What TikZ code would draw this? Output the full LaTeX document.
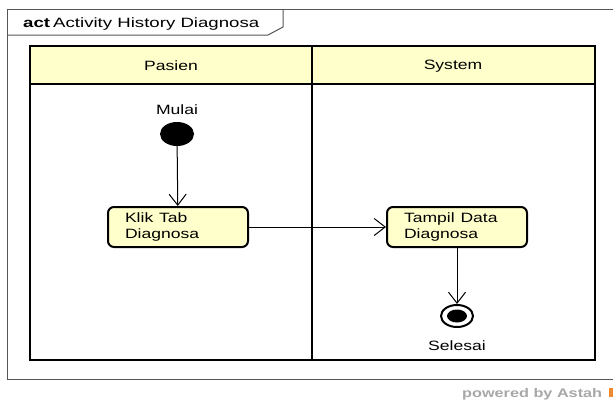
\documentclass[tikz,border=0pt]{standalone}
\usepackage{fontspec}
\setmainfont{Liberation Sans}
\usetikzlibrary{arrows.meta,shapes.geometric}
\definecolor{lanefill}{HTML}{FFFFCC}
\definecolor{actfill}{HTML}{FFFFCC}
\definecolor{framegray}{HTML}{555555}
\definecolor{markgray}{HTML}{A8A8A8}
\definecolor{astahorange}{HTML}{F08A30}
% text is set slightly wide, as in the Astah export
\newcommand\wtext[1]{\scalebox{1.3}[1]{#1}}
\tikzset{
  lane/.style={draw=black, line width=2pt},
  lanehead/.style={draw=black, line width=2pt, fill=lanefill},
  actionbox/.style={draw=black, line width=2pt, fill=actfill, rounded corners=6pt,
    minimum width=140pt, minimum height=40pt, inner sep=0pt, text width=106pt,
    align=left, font=\fontsize{13.5}{15.5}\selectfont},
  lbl/.style={font=\fontsize{13.5}{15.5}\selectfont, inner sep=0pt},
  flow/.style={draw=black, line width=1pt, -{Straight Barb[length=11pt,width=17pt,line width=1pt]}},
}
\begin{document}
\begin{tikzpicture}[x=1pt,y=-1pt]
  \useasboundingbox (0,0) rectangle (613,402);
  \clip (0,0) rectangle (613,402);
  \fill[white] (0,0) rectangle (613,402);

  % diagram frame with its name tab
  \draw[framegray, line width=1pt] (620,9) -- (7,9) -- (7,379) -- (620,379);
  \draw[framegray, line width=1pt] (7,35) -- (268,35) -- (283,27) -- (283,9);
  \node[lbl, anchor=west] (title) at (23,24) {\scalebox{1.38}[1]{\textbf{act}\,Activity History Diagnosa}};

  % swimlanes
  \draw[lanehead] (30,46) rectangle (312,84);
  \draw[lanehead] (312,46) rectangle (595,84);
  \draw[lane] (30,84) rectangle (312,360);
  \draw[lane] (312,84) rectangle (595,360);
  \node[lbl] (pasien) at (171,66) {\wtext{Pasien}};
  \node[lbl] (system) at (453,66) {\wtext{System}};

  % initial node
  \node[ellipse, fill=black, minimum width=34pt, minimum height=24pt, inner sep=0pt] (start) at (177,134) {};
  \node[lbl] (mulai) at (177,110) {\wtext{Mulai}};

  % actions
  \node[actionbox] (klik) at (178,227) {\wtext{Klik Tab}\\\wtext{Diagnosa}};
  \node[actionbox] (tampil) at (457,227) {\wtext{Tampil Data}\\\wtext{Diagnosa}};

  % final node
  \node[ellipse, draw=black, line width=2pt, fill=white, minimum width=32pt, minimum height=22pt, inner sep=0pt] (end) at (457,316) {};
  \fill[black] (end.center) ellipse [x radius=10pt, y radius=6.5pt];
  \node[lbl] (selesai) at (457,346) {\wtext{Selesai}};

  % control flows
  \draw[flow] (start) -- (klik);
  \draw[flow] (klik) -- (tampil);
  \draw[flow] (tampil) -- (end);

  % export mark
  \node[anchor=base west, inner sep=0pt, text=markgray, font=\fontsize{12.5}{14}\selectfont\bfseries] (mark) at (462,397.5) {\wtext{powered by Astah}};
  \fill[astahorange] (609,388) rectangle (613,397);
\end{tikzpicture}
\end{document}
